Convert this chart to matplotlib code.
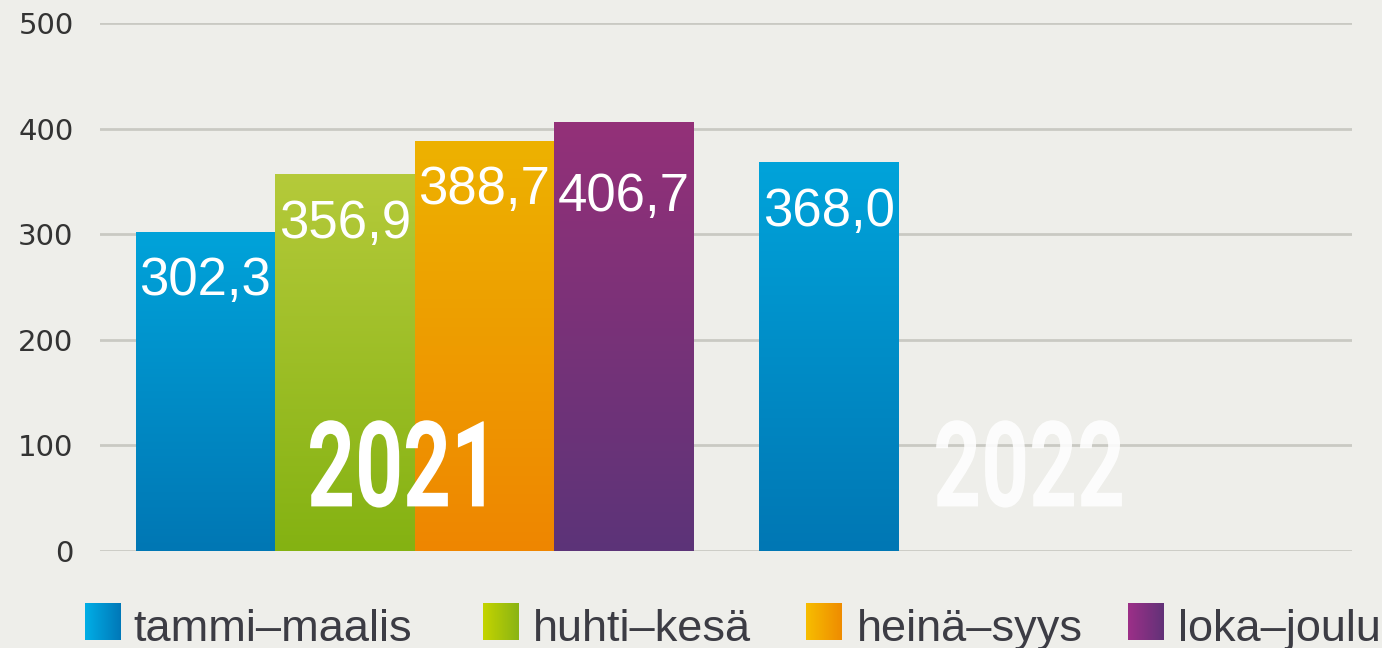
import numpy as np
import matplotlib
matplotlib.use("Agg")
import matplotlib.pyplot as plt
from matplotlib.colors import LinearSegmentedColormap
from matplotlib.patheffects import AbstractPathEffect
from matplotlib.transforms import Affine2D

# ---------------- data ----------------
periods = ["tammi–maalis", "huhti–kesä", "heinä–syys", "loka–joulu"]
years = ["2021", "2022"]
values_2021 = [302.3, 356.9, 388.7, 406.7]
values_2022 = [368.0]
yticks = [0, 100, 200, 300, 400, 500]

# ---------------- styles ----------------
top_colors = ["#00a3da", "#b5ca3a", "#edb200", "#943079"]
bot_colors = ["#0077b4", "#84b212", "#ef8600", "#5c3478"]
leg_left = ["#00aee6", "#c4d400", "#f7bd00", "#9c2f88"]
leg_right = ["#0078b8", "#8ab414", "#ef8c00", "#623278"]
bg = "#eeeeea"
grid_c = "#c9c9c3"
group_start = [0.0, 4.47]
label_drop = [47, 47, 47, 71]

W, H = 1382, 648
fig = plt.figure(figsize=(W / 100, H / 100), dpi=100, facecolor=bg)
ax = fig.add_axes([100 / W, 97 / H, 1252 / W, 528 / H])
ax.set_facecolor("none")


class Condense(AbstractPathEffect):
    def __init__(self, sx):
        super().__init__()
        self.sx = sx

    def draw_path(self, renderer, gc, tpath, affine, rgbFace=None):
        v = tpath.vertices
        cx = (v[:, 0].min() + v[:, 0].max()) / 2.0
        t = Affine2D().translate(-cx, 0).scale(self.sx, 1).translate(cx, 0) + affine
        renderer.draw_path(gc, tpath, t, rgbFace)


def grad_fill(axis, patch, c_bot, c_top):
    x0, y0 = patch.get_x(), patch.get_y()
    w, h = patch.get_width(), patch.get_height()
    cmap = LinearSegmentedColormap.from_list("g", [c_bot, c_top])
    img = axis.imshow(np.linspace(0, 1, 256).reshape(-1, 1), cmap=cmap,
                      extent=[x0, x0 + w, y0, y0 + h], origin="lower",
                      aspect="auto", zorder=patch.get_zorder() + 0.1,
                      interpolation="bilinear")
    img.set_clip_path(patch)


all_groups = [values_2021, values_2022]
for g, vals in enumerate(all_groups):
    xs = [group_start[g] + i for i in range(len(vals))]
    bars = ax.bar(xs, vals, width=1.0, color=top_colors[:len(vals)],
                  linewidth=0, zorder=2)
    for i, (b, v) in enumerate(zip(bars, vals)):
        grad_fill(ax, b, bot_colors[i], top_colors[i])
        ax.text(b.get_x() + b.get_width() / 2, v - label_drop[i],
                f"{v:.1f}".replace(".", ","), ha="center", va="center",
                color="white", fontsize=38, family="Liberation Sans",
                zorder=4)

# year labels
year_alpha = [1.0, 0.88]
for g, yr in enumerate(years):
    ax.text(group_start[g] + 1.44, 73, yr, ha="center", va="center",
            color="white", alpha=year_alpha[g], fontsize=86,
            family="Roboto", weight="bold", zorder=5,
            path_effects=[Condense(0.7)])

ax.set_xlim(-0.756, 8.22)
ax.set_ylim(0, 500)
ax.set_yticks(yticks)
ax.set_yticklabels([str(t) for t in yticks], family="DejaVu Sans",
                   fontsize=21, color="#333333")
ax.tick_params(axis="y", length=0, pad=19)
ax.tick_params(axis="x", bottom=False, labelbottom=False)
ax.yaxis.grid(True, color=grid_c, linewidth=2.0, zorder=0)
ax.set_axisbelow(True)
for s in ax.spines.values():
    s.set_visible(False)

# legend (pixel-coordinate overlay)
lax = fig.add_axes([0, 0, 1, 1], zorder=10)
lax.set_xlim(0, W)
lax.set_ylim(H, 0)
lax.axis("off")
sq_x = [85, 483, 806, 1128]
tx_x = [133, 533, 857, 1178]
for i, name in enumerate(periods):
    cmap = LinearSegmentedColormap.from_list("l", [leg_left[i], leg_right[i]])
    lax.imshow(np.linspace(0, 1, 64).reshape(1, -1), cmap=cmap,
               extent=[sq_x[i], sq_x[i] + 36, 640, 603], aspect="auto",
               interpolation="bilinear")
    lax.text(tx_x[i], 641, name, ha="left", va="baseline",
             family="Liberation Sans", fontsize=32.5, color="#3c3c44")
lax.set_xlim(0, W)
lax.set_ylim(H, 0)

fig.savefig("out.png", dpi=100, facecolor=bg)
